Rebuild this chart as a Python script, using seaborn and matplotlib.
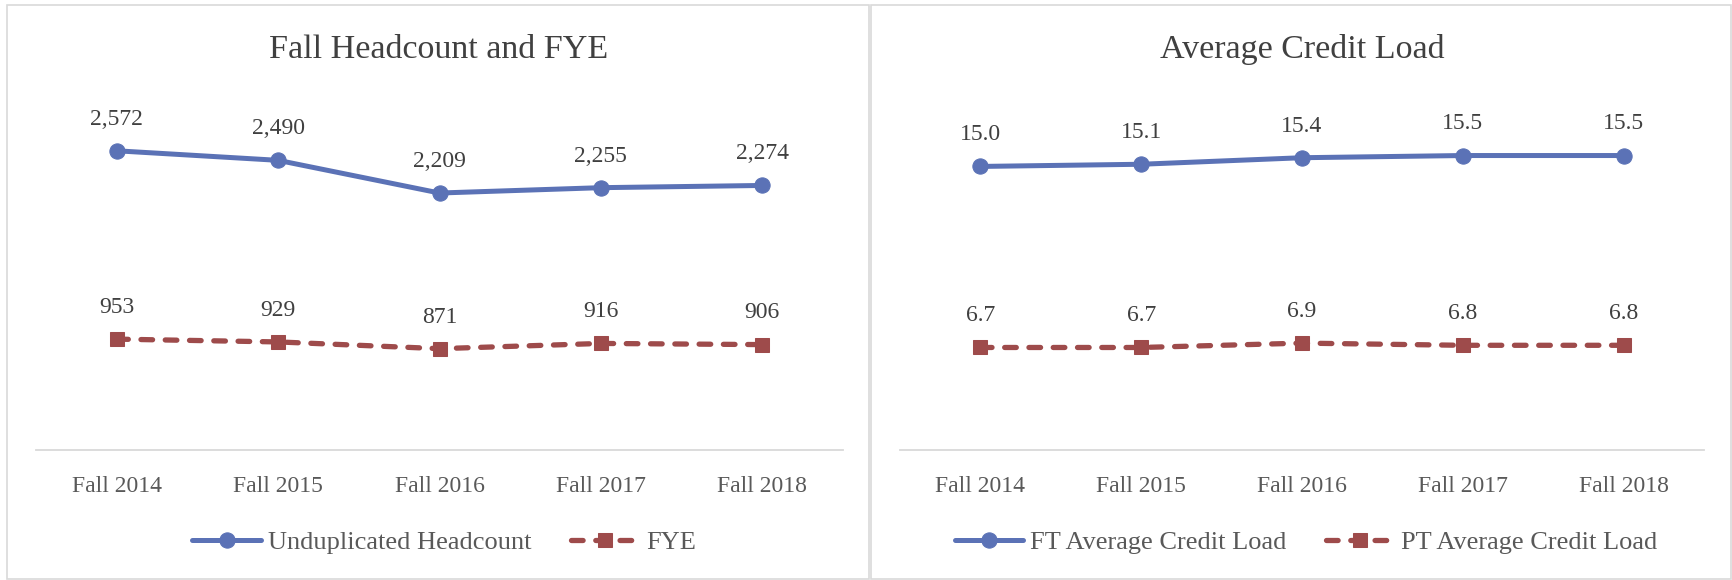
import numpy as np
import pandas as pd
import seaborn as sns
import matplotlib.pyplot as plt
from matplotlib.patches import Rectangle

# data
terms = ["Fall 2014", "Fall 2015", "Fall 2016", "Fall 2017", "Fall 2018"]
headcount = [2572, 2490, 2209, 2255, 2274]
fye = [953, 929, 871, 916, 906]
ft_load = [15.0, 15.1, 15.4, 15.5, 15.5]
pt_load = [6.7, 6.7, 6.9, 6.8, 6.8]

BLUE = "#5B72B6"
RED = "#9E4B4B"
TEXT = "#404040"
TICK = "#595959"
GRID = "#D9D9D9"

sns.set_style("white")
plt.rcParams["font.family"] = ["Liberation Serif", "DejaVu Serif"]

W, H = 1732, 580
fig = plt.figure(figsize=(W / 100, H / 100), dpi=100)


def fx(px):
    return px / W


def fy(py):
    return 1 - py / H


# panel borders
for x0, x1 in [(7, 869), (871, 1731)]:
    fig.patches.append(Rectangle((fx(x0), fy(579)), fx(x1 - x0), (579 - 5) / H,
                                 transform=fig.transFigure, fill=False,
                                 edgecolor=GRID, linewidth=1.2))


def draw_panel(ax, s1, s2, name1, name2, ylim, fmt):
    df1 = pd.DataFrame({"term": terms, "value": s1})
    df2 = pd.DataFrame({"term": terms, "value": s2})
    sns.lineplot(data=df1, x="term", y="value", ax=ax, color=BLUE, marker="o",
                 markersize=11, markeredgecolor=BLUE, linewidth=3.6,
                 label=name1, sort=False)
    sns.lineplot(data=df2, x="term", y="value", ax=ax, color=RED, marker="s",
                 markersize=9.5, markeredgecolor=RED, linewidth=3.8,
                 label=name2, sort=False, dashes=False)
    l2 = ax.lines[-1]
    l2.set_dashes((2.2, 2.4))
    l2.set_dash_capstyle("round")
    l2.set_solid_capstyle("round")
    ax.lines[0].set_solid_capstyle("round")

    for i, v in enumerate(s1):
        ax.annotate(fmt(v), (i, v), xytext=(0, 18.8), textcoords="offset points",
                    ha="center", va="baseline", fontsize=17, color=TEXT)
    for i, v in enumerate(s2):
        ax.annotate(fmt(v), (i, v), xytext=(0, 18.8), textcoords="offset points",
                    ha="center", va="baseline", fontsize=17, color=TEXT)

    ax.set_xlim(-0.5, 4.5)
    ax.set_ylim(*ylim)
    ax.set_yticks([])
    ax.set_xlabel("")
    ax.set_ylabel("")
    for side in ["top", "left", "right"]:
        ax.spines[side].set_visible(False)
    ax.spines["bottom"].set_color(GRID)
    ax.spines["bottom"].set_linewidth(1.3)
    ax.tick_params(axis="x", length=0, pad=19, labelsize=17, labelcolor=TICK)
    ax.set_facecolor("none")
    ax.get_legend().remove()


ax1 = fig.add_axes([fx(36), fy(450), fx(807), 349 / H])
ax2 = fig.add_axes([fx(900), fy(450), fx(804), 349 / H])

draw_panel(ax1, headcount, fye, "Unduplicated Headcount", "FYE",
           (0, 3000), lambda v: f"{v:,}")
draw_panel(ax2, ft_load, pt_load, "FT Average Credit Load", "PT Average Credit Load",
           (2, 18), lambda v: f"{v:.1f}")

fig.text(fx(439), fy(58), "Fall Headcount and FYE", ha="center", va="baseline",
         fontsize=24.5, color=TEXT)
fig.text(fx(1302), fy(58), "Average Credit Load", ha="center", va="baseline",
         fontsize=24.5, color=TEXT)

for ax, cx in [(ax1, 444), (ax2, 1306)]:
    h, l = ax.get_legend_handles_labels()
    fig.legend(h, l, loc="center", bbox_to_anchor=(fx(cx), fy(542)), ncol=2,
               frameon=False, fontsize=19, labelcolor=TICK, handlelength=2.6,
               handletextpad=0.25, columnspacing=1.5, numpoints=1)

plt.savefig("out.png", dpi=100)
